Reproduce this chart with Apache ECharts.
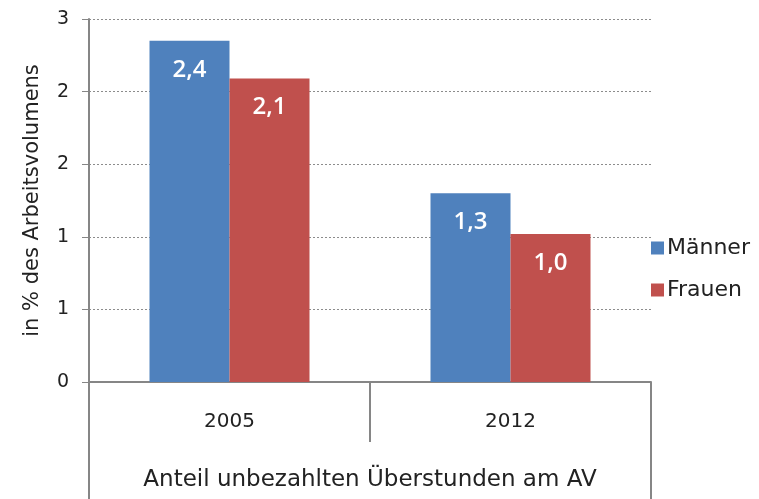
<!DOCTYPE html>
<html>
<head>
<meta charset="utf-8">
<script src="https://cdn.jsdelivr.net/npm/echarts@6/dist/echarts.min.js"></script>
<style>
  html, body { margin: 0; padding: 0; background: #fff; }
  #main { width: 759px; height: 499px; }
</style>
</head>
<body>
<div id="main"></div>
<script>
var years = ['2005', '2012'];
var groupLabel = ['Anteil unbezahlten Überstunden am AV'];
var maenner = [2.35, 1.3];
var frauen = [2.09, 1.02];

var myChart = echarts.init(document.getElementById('main'));
var font = 'DejaVu Sans';
var axisGray = '#868686';

function valLabel(p) {
  return p.value.toFixed(1).replace('.', ',');
}

option = {
  animation: false,
  textStyle: { fontFamily: font },
  grid: { left: 89, right: 108, top: 19, bottom: 117 },
  legend: {
    orient: 'vertical',
    left: 646,
    top: 232,
    itemWidth: 13,
    itemHeight: 13,
    itemGap: 20,
    icon: 'rect',
    textStyle: { fontSize: 22, color: '#222', fontFamily: font, padding: [0, 0, 0, -2] },
    data: ['Männer', 'Frauen']
  },
  xAxis: [
    {
      type: 'category',
      data: years,
      position: 'bottom',
      axisLine: { lineStyle: { color: axisGray, width: 2 } },
      axisTick: { show: true, length: 60, interval: 0, lineStyle: { color: axisGray, width: 2 } },
      axisLabel: { fontSize: 20, color: '#222', margin: 30 }
    },
    {
      type: 'category',
      data: groupLabel,
      position: 'bottom',
      axisLine: { show: false },
      axisTick: { show: true, length: 117, lineStyle: { color: axisGray, width: 2 } },
      axisLabel: { fontSize: 23, color: '#222', margin: 87 }
    }
  ],
  yAxis: {
    type: 'value',
    min: 0,
    max: 2.5,
    interval: 0.5,
    name: 'in % des Arbeitsvolumens',
    nameLocation: 'middle',
    nameGap: 46,
    nameTextStyle: { fontSize: 21, color: '#222' },
    axisLine: { show: true, lineStyle: { color: axisGray, width: 2 } },
    axisTick: { show: true, length: 7, lineStyle: { color: axisGray, width: 1 } },
    axisLabel: {
      fontSize: 19,
      color: '#222',
      margin: 20,
      formatter: function (v) { return String(Math.round(v)); }
    },
    splitLine: { lineStyle: { color: '#8c8c8c', type: [2, 2], width: 1 } }
  },
  series: [
    {
      name: 'Männer',
      type: 'bar',
      data: maenner,
      barWidth: 80,
      barGap: '0%',
      itemStyle: { color: '#4F81BD' },
      label: {
        show: true,
        position: 'insideTop',
        distance: 17,
        color: '#fff',
        fontSize: 24,
        fontWeight: 600,
        fontFamily: 'Open Sans',
        formatter: valLabel
      }
    },
    {
      name: 'Frauen',
      type: 'bar',
      data: frauen,
      barWidth: 80,
      barGap: '0%',
      itemStyle: { color: '#C0504D' },
      label: {
        show: true,
        position: 'insideTop',
        distance: 17,
        color: '#fff',
        fontSize: 24,
        fontWeight: 600,
        fontFamily: 'Open Sans',
        formatter: valLabel
      }
    }
  ]
};
myChart.setOption(option);
</script>
</body>
</html>
